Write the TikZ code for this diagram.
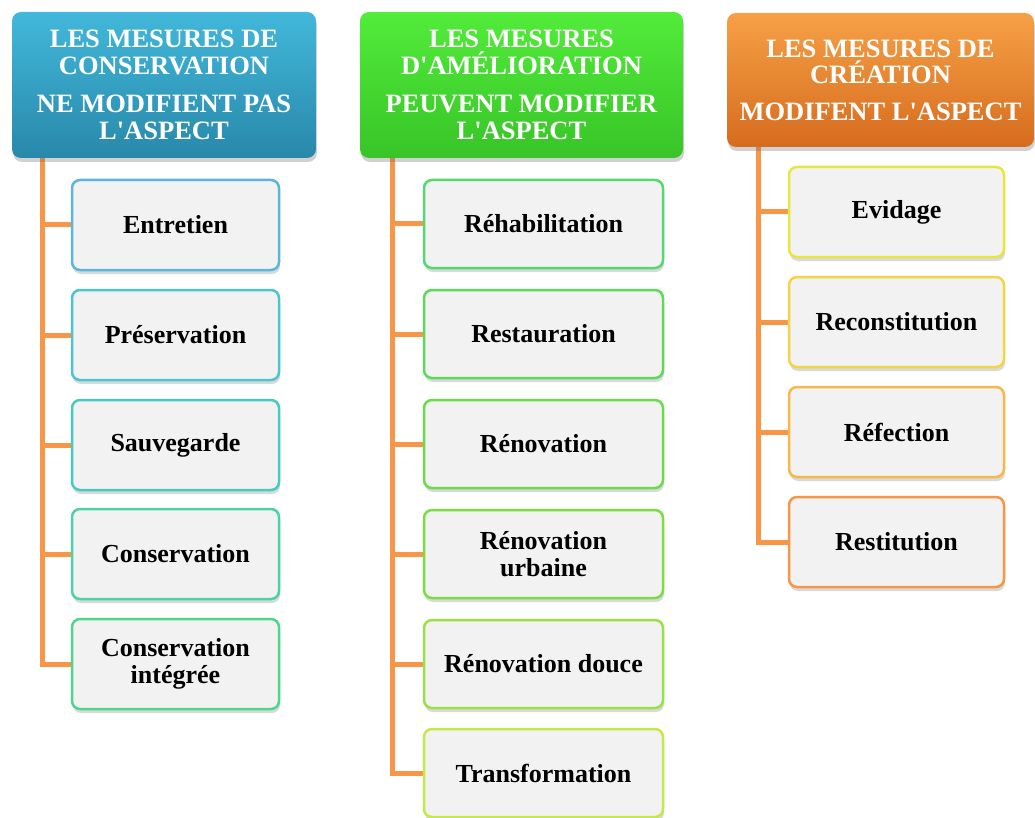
\documentclass[tikz,border=0pt]{standalone}
\usepackage{fontspec}
\setmainfont{Liberation Serif}[Ligatures=TeXOff]
\usetikzlibrary{shadows}
\pgfdeclarelayer{bg}
\pgfsetlayers{bg,main}
\definecolor{conn}{HTML}{F79646}
\definecolor{boxfill}{HTML}{F2F2F2}
\definecolor{h1top}{RGB}{66,184,218}
\definecolor{h1bot}{RGB}{40,136,170}
\definecolor{h2top}{RGB}{82,236,58}
\definecolor{h2bot}{RGB}{56,196,40}
\definecolor{h3top}{RGB}{246,160,70}
\definecolor{h3bot}{RGB}{214,108,30}
\definecolor{a1}{HTML}{5BB5DD}
\definecolor{a2}{HTML}{4DC4D0}
\definecolor{a3}{HTML}{45CBC0}
\definecolor{a4}{HTML}{4DD3A3}
\definecolor{a5}{HTML}{50D58C}
\definecolor{b1}{HTML}{55D870}
\definecolor{b2}{HTML}{5EDA58}
\definecolor{b3}{HTML}{6ADC48}
\definecolor{b4}{HTML}{7ADE42}
\definecolor{b5}{HTML}{98E246}
\definecolor{b6}{HTML}{C6E84A}
\definecolor{c1}{HTML}{E8E63E}
\definecolor{c2}{HTML}{F2D545}
\definecolor{c3}{HTML}{F5B94A}
\definecolor{c4}{HTML}{F79646}
\tikzset{
  hdr/.style={rectangle, rounded corners=9pt, inner sep=0pt, align=center,
    text=white, font=\bfseries\fontsize{26.5}{26.5}\selectfont,
    drop shadow={shadow xshift=1pt, shadow yshift=-4pt, opacity=0.3, fill=black!60}},
  child/.style={rectangle, rounded corners=8pt, inner sep=0pt, align=center,
    fill=boxfill, line width=2.5pt, font=\bfseries\fontsize{26}{27}\selectfont,
    drop shadow={shadow xshift=1pt, shadow yshift=-4pt, opacity=0.3, fill=black!50}},
  lc/.style={child, minimum width=207pt, minimum height=90pt},
  mc/.style={child, minimum width=239pt, minimum height=88pt},
  rc/.style={child, minimum width=215pt, minimum height=90pt},
  wire/.style={draw=conn, line width=5pt, line join=miter}
}
\begin{document}
\begin{tikzpicture}[x=1pt, y=-1pt]
\useasboundingbox (0,0) rectangle (1035,818);
% headers
\node[hdr, minimum width=304pt, minimum height=146pt, top color=h1top, bottom color=h1bot] (h1) at (164,85)
  {LES MESURES DE\\CONSERVATION\\[12pt]NE MODIFIENT PAS\\L'ASPECT};
\node[hdr, minimum width=323pt, minimum height=146pt, top color=h2top, bottom color=h2bot] (h2) at (521.5,85)
  {LES MESURES\\D'AMÉLIORATION\\[12pt]PEUVENT MODIFIER\\L'ASPECT};
\node[hdr, minimum width=307pt, minimum height=134pt, top color=h3top, bottom color=h3bot] (h3) at (880.5,80)
  {LES MESURES DE\\CRÉATION\\[10pt]MODIFENT L'ASPECT};
% trunk start coordinates
\coordinate (t1) at (42,158);
\coordinate (t2) at (392,158);
\coordinate (t3) at (758,146);
% left column
\node[lc, draw=a1] (a1) at (175.5,225) {Entretien};
\node[lc, draw=a2] (a2) at (175.5,335) {Préservation};
\node[lc, draw=a3] (a3) at (175.5,445) {Sauvegarde};
\node[lc, draw=a4] (a4) at (175.5,554) {Conservation};
\node[lc, draw=a5] (a5) at (175.5,664) {Conservation\\intégrée};
% middle column
\node[mc, draw=b1] (b1) at (543.5,224) {Réhabilitation};
\node[mc, draw=b2] (b2) at (543.5,334) {Restauration};
\node[mc, draw=b3] (b3) at (543.5,444) {Rénovation};
\node[mc, draw=b4] (b4) at (543.5,554) {Rénovation\\urbaine};
\node[mc, draw=b5] (b5) at (543.5,664) {Rénovation douce};
\node[mc, draw=b6] (b6) at (543.5,773) {Transformation};
% right column
\node[rc, draw=c1] (c1) at (896.5,212) {Evidage};
\node[rc, draw=c2] (c2) at (896.5,322) {Reconstitution};
\node[rc, draw=c3] (c3) at (896.5,432) {Réfection};
\node[rc, draw=c4] (c4) at (896.5,542) {Restitution};
% connectors
\begin{pgfonlayer}{bg}
\foreach \n in {a1,a2,a3,a4,a5} \draw[wire] (t1) |- (\n.west);
\foreach \n in {b1,b2,b3,b4,b5,b6} \draw[wire] (t2) |- (\n.west);
\foreach \n in {c1,c2,c3,c4} \draw[wire] (t3) |- (\n.west);
\end{pgfonlayer}
\end{tikzpicture}
\end{document}
